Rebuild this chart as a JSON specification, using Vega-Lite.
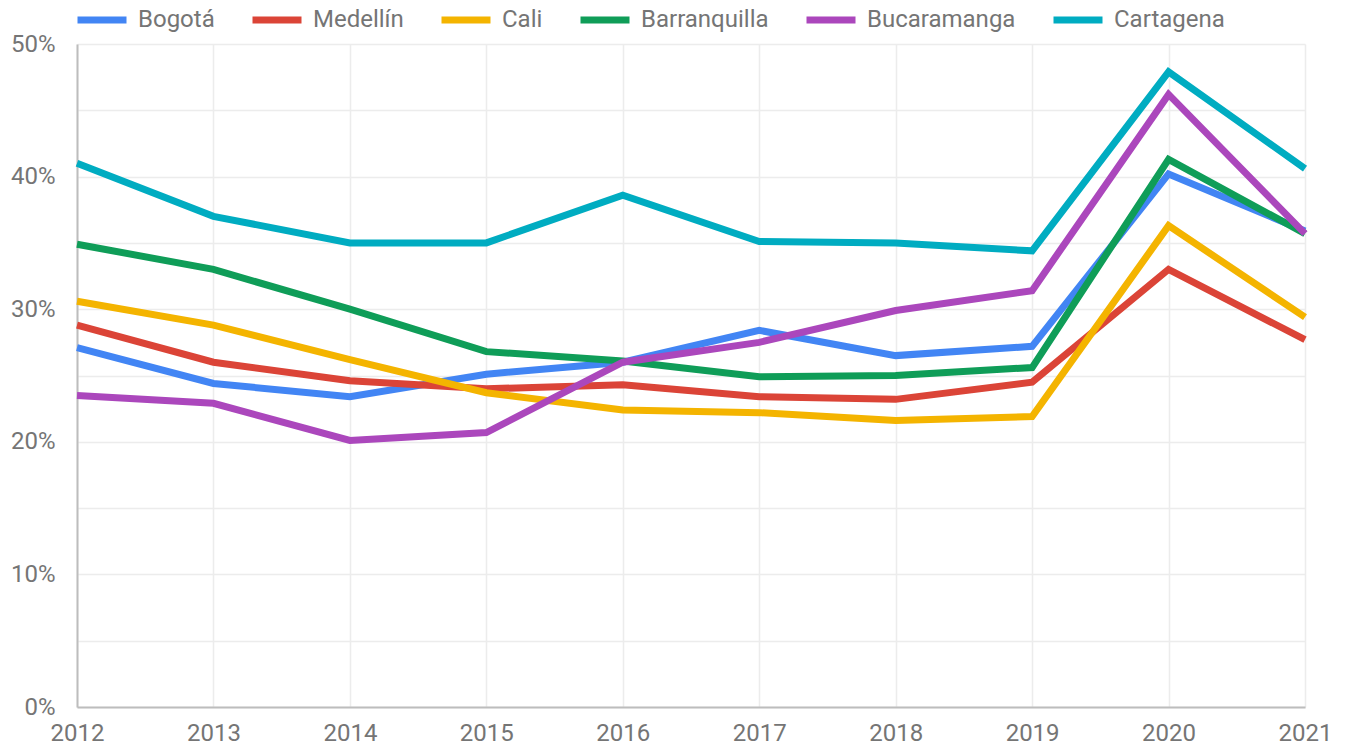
{
  "$schema": "https://vega.github.io/schema/vega-lite/v6.json",
  "width": 1228,
  "height": 663,
  "autosize": "none",
  "padding": {"left": 77, "top": 44, "right": 41, "bottom": 40},
  "background": "white",
  "config": {
    "font": "Roboto",
    "view": {"stroke": null},
    "axis": {"labelFont": "Roboto", "labelColor": "#757575", "labelFontSize": 24, "ticks": false, "gridColor": "#ececec", "gridWidth": 1.5, "domainColor": "#bdbdbd", "domainWidth": 2, "title": null}
  },
  "data": {
    "values": [
      {"year": 2012, "city": "Bogotá", "v": 27.1}, {"year": 2013, "city": "Bogotá", "v": 24.4}, {"year": 2014, "city": "Bogotá", "v": 23.4}, {"year": 2015, "city": "Bogotá", "v": 25.1}, {"year": 2016, "city": "Bogotá", "v": 26.0}, {"year": 2017, "city": "Bogotá", "v": 28.4}, {"year": 2018, "city": "Bogotá", "v": 26.5}, {"year": 2019, "city": "Bogotá", "v": 27.2}, {"year": 2020, "city": "Bogotá", "v": 40.2}, {"year": 2021, "city": "Bogotá", "v": 35.9},
      {"year": 2012, "city": "Medellín", "v": 28.8}, {"year": 2013, "city": "Medellín", "v": 26.0}, {"year": 2014, "city": "Medellín", "v": 24.6}, {"year": 2015, "city": "Medellín", "v": 24.0}, {"year": 2016, "city": "Medellín", "v": 24.3}, {"year": 2017, "city": "Medellín", "v": 23.4}, {"year": 2018, "city": "Medellín", "v": 23.2}, {"year": 2019, "city": "Medellín", "v": 24.5}, {"year": 2020, "city": "Medellín", "v": 33.0}, {"year": 2021, "city": "Medellín", "v": 27.7},
      {"year": 2012, "city": "Cali", "v": 30.6}, {"year": 2013, "city": "Cali", "v": 28.8}, {"year": 2014, "city": "Cali", "v": 26.2}, {"year": 2015, "city": "Cali", "v": 23.7}, {"year": 2016, "city": "Cali", "v": 22.4}, {"year": 2017, "city": "Cali", "v": 22.2}, {"year": 2018, "city": "Cali", "v": 21.6}, {"year": 2019, "city": "Cali", "v": 21.9}, {"year": 2020, "city": "Cali", "v": 36.3}, {"year": 2021, "city": "Cali", "v": 29.4},
      {"year": 2012, "city": "Barranquilla", "v": 34.9}, {"year": 2013, "city": "Barranquilla", "v": 33.0}, {"year": 2014, "city": "Barranquilla", "v": 30.0}, {"year": 2015, "city": "Barranquilla", "v": 26.8}, {"year": 2016, "city": "Barranquilla", "v": 26.1}, {"year": 2017, "city": "Barranquilla", "v": 24.9}, {"year": 2018, "city": "Barranquilla", "v": 25.0}, {"year": 2019, "city": "Barranquilla", "v": 25.6}, {"year": 2020, "city": "Barranquilla", "v": 41.3}, {"year": 2021, "city": "Barranquilla", "v": 35.7},
      {"year": 2012, "city": "Bucaramanga", "v": 23.5}, {"year": 2013, "city": "Bucaramanga", "v": 22.9}, {"year": 2014, "city": "Bucaramanga", "v": 20.1}, {"year": 2015, "city": "Bucaramanga", "v": 20.7}, {"year": 2016, "city": "Bucaramanga", "v": 26.0}, {"year": 2017, "city": "Bucaramanga", "v": 27.5}, {"year": 2018, "city": "Bucaramanga", "v": 29.9}, {"year": 2019, "city": "Bucaramanga", "v": 31.4}, {"year": 2020, "city": "Bucaramanga", "v": 46.2}, {"year": 2021, "city": "Bucaramanga", "v": 35.7},
      {"year": 2012, "city": "Cartagena", "v": 41.0}, {"year": 2013, "city": "Cartagena", "v": 37.0}, {"year": 2014, "city": "Cartagena", "v": 35.0}, {"year": 2015, "city": "Cartagena", "v": 35.0}, {"year": 2016, "city": "Cartagena", "v": 38.6}, {"year": 2017, "city": "Cartagena", "v": 35.1}, {"year": 2018, "city": "Cartagena", "v": 35.0}, {"year": 2019, "city": "Cartagena", "v": 34.4}, {"year": 2020, "city": "Cartagena", "v": 47.9}, {"year": 2021, "city": "Cartagena", "v": 40.6}
    ]
  },
  "mark": {"type": "line", "strokeWidth": 7, "strokeJoin": "miter"},
  "encoding": {
    "x": {
      "field": "year", "type": "quantitative",
      "scale": {"domain": [2012, 2021], "nice": false, "zero": false},
      "axis": {"values": [2012, 2013, 2014, 2015, 2016, 2017, 2018, 2019, 2020, 2021], "format": "d", "labelPadding": 14, "labelFlush": false, "labelOverlap": false}
    },
    "y": {
      "field": "v", "type": "quantitative",
      "scale": {"domain": [0, 50], "nice": false},
      "axis": {"values": [0, 5, 10, 15, 20, 25, 30, 35, 40, 45, 50], "labelExpr": "datum.value % 10 === 0 ? datum.value + '%' : ''", "labelPadding": 22}
    },
    "color": {
      "field": "city", "type": "nominal",
      "scale": {"domain": ["Bogotá", "Medellín", "Cali", "Barranquilla", "Bucaramanga", "Cartagena"], "range": ["#4285f4", "#db4437", "#f4b400", "#0f9d58", "#ab47bc", "#00acc1"]},
      "legend": {
        "orient": "none", "legendX": -3, "legendY": -52, "direction": "horizontal", "title": null,
        "symbolType": "stroke", "symbolSize": 2401, "symbolStrokeWidth": 7,
        "labelFont": "Roboto", "labelFontSize": 24, "labelColor": "#757575", "labelOffset": 8, "columnPadding": 23
      }
    },
    "order": {"field": "city"}
  }
}
